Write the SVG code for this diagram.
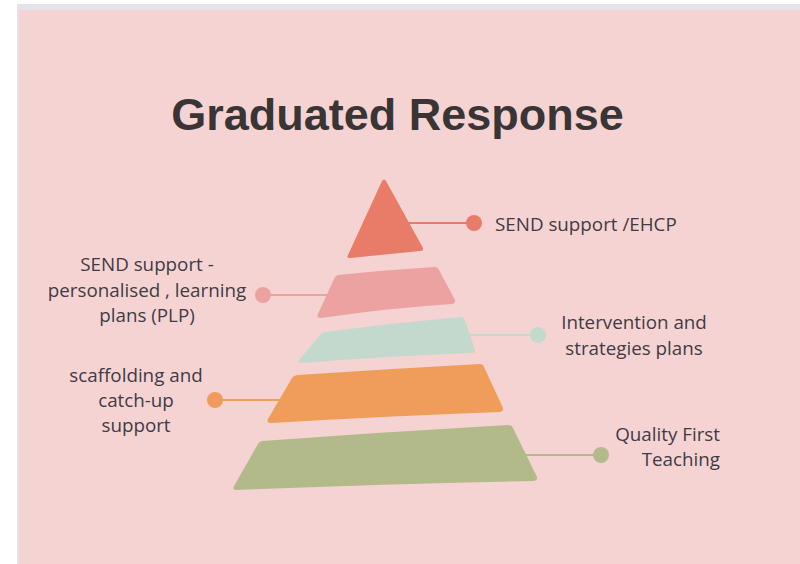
<svg xmlns="http://www.w3.org/2000/svg" width="800" height="564" viewBox="0 0 800 564">
<style>
.lbl{font-family:"Open Sans","Liberation Sans",sans-serif;font-size:18.8px;fill:#3f3b45}
.title{font-family:"Liberation Sans",Arial,sans-serif;font-weight:bold;font-size:45px;fill:#3a3535}
.conn{stroke-width:2;fill:none}
</style>
<rect x="0" y="0" width="800" height="564" fill="#ffffff"/>
<rect x="17" y="4" width="783" height="560" fill="#e3e4ea"/>
<rect x="19" y="10" width="781" height="554" fill="#f5d3d3"/>
<g id="title"><text class="title" x="397.5" y="130" text-anchor="middle">Graduated Response</text></g>
<g id="connectors">
<line class="conn" x1="405" y1="223" x2="474" y2="223" stroke="#e97b69"/>
<circle cx="474" cy="223" r="8" fill="#e97b69"/>
<line class="conn" x1="263" y1="295" x2="330" y2="295" stroke="#eca2a0"/>
<circle cx="263" cy="295" r="8" fill="#eca2a0"/>
<line class="conn" x1="468" y1="335" x2="538" y2="335" stroke="#c4d9cd"/>
<circle cx="538" cy="335" r="8" fill="#c4d9cd"/>
<line class="conn" x1="215" y1="400" x2="282" y2="400" stroke="#f09c5a"/>
<circle cx="215" cy="400" r="8" fill="#f09c5a"/>
<line class="conn" x1="525" y1="455" x2="601" y2="455" stroke="#b2ba8a"/>
<circle cx="601" cy="455" r="8" fill="#b2ba8a"/>
</g>
<g id="tier1">
<path d="M382,181 Q384,178 386,181 L423,248 Q424,251 420,251 L350,258 Q346,258 348,255 Z" fill="#e97b69"/>
<text class="lbl" x="495" y="231">SEND support /EHCP</text>
</g>
<g id="tier2">
<path d="M338,275 Q386,270 434,267 Q438,267 439,270 L455,300 Q456,303 452,304 Q390,308 321,318 Q316,318 318,314 L334,279 Q335,276 338,275 Z" fill="#eca2a0"/>
<text class="lbl" text-anchor="middle"><tspan x="147" y="271">SEND support -</tspan><tspan x="147" y="297">personalised , learning</tspan><tspan x="147" y="322">plans (PLP)</tspan></text>
</g>
<g id="tier3">
<path d="M325,332 Q392,323 460,317 Q464,317 465,320 L475,350 Q476,353 472,353 Q390,356 302,363 Q298,363 299,360 L320,335 Q321,333 325,332 Z" fill="#c4d9cd"/>
<text class="lbl" text-anchor="middle"><tspan x="634" y="329">Intervention and</tspan><tspan x="634" y="355">strategies plans</tspan></text>
</g>
<g id="tier4">
<path d="M297,375 Q388,369 480,364 Q483,364 484,367 L503,408 Q504,411 500,412 Q390,416 271,423 Q266,423 268,419 L292,378 Q293,376 297,375 Z" fill="#f09c5a"/>
<text class="lbl" text-anchor="middle"><tspan x="136" y="382">scaffolding and</tspan><tspan x="136" y="407">catch-up</tspan><tspan x="136" y="432">support</tspan></text>
</g>
<g id="tier5">
<path d="M262,441 Q385,432 508,425 Q512,425 513,428 L537,477 Q538,480 534,481 Q390,484 237,490 Q232,490 234,486 L258,444 Q259,442 262,441 Z" fill="#b2ba8a"/>
<text class="lbl" text-anchor="end"><tspan x="720" y="441">Quality First</tspan><tspan x="720" y="466">Teaching</tspan></text>
</g>
</svg>
